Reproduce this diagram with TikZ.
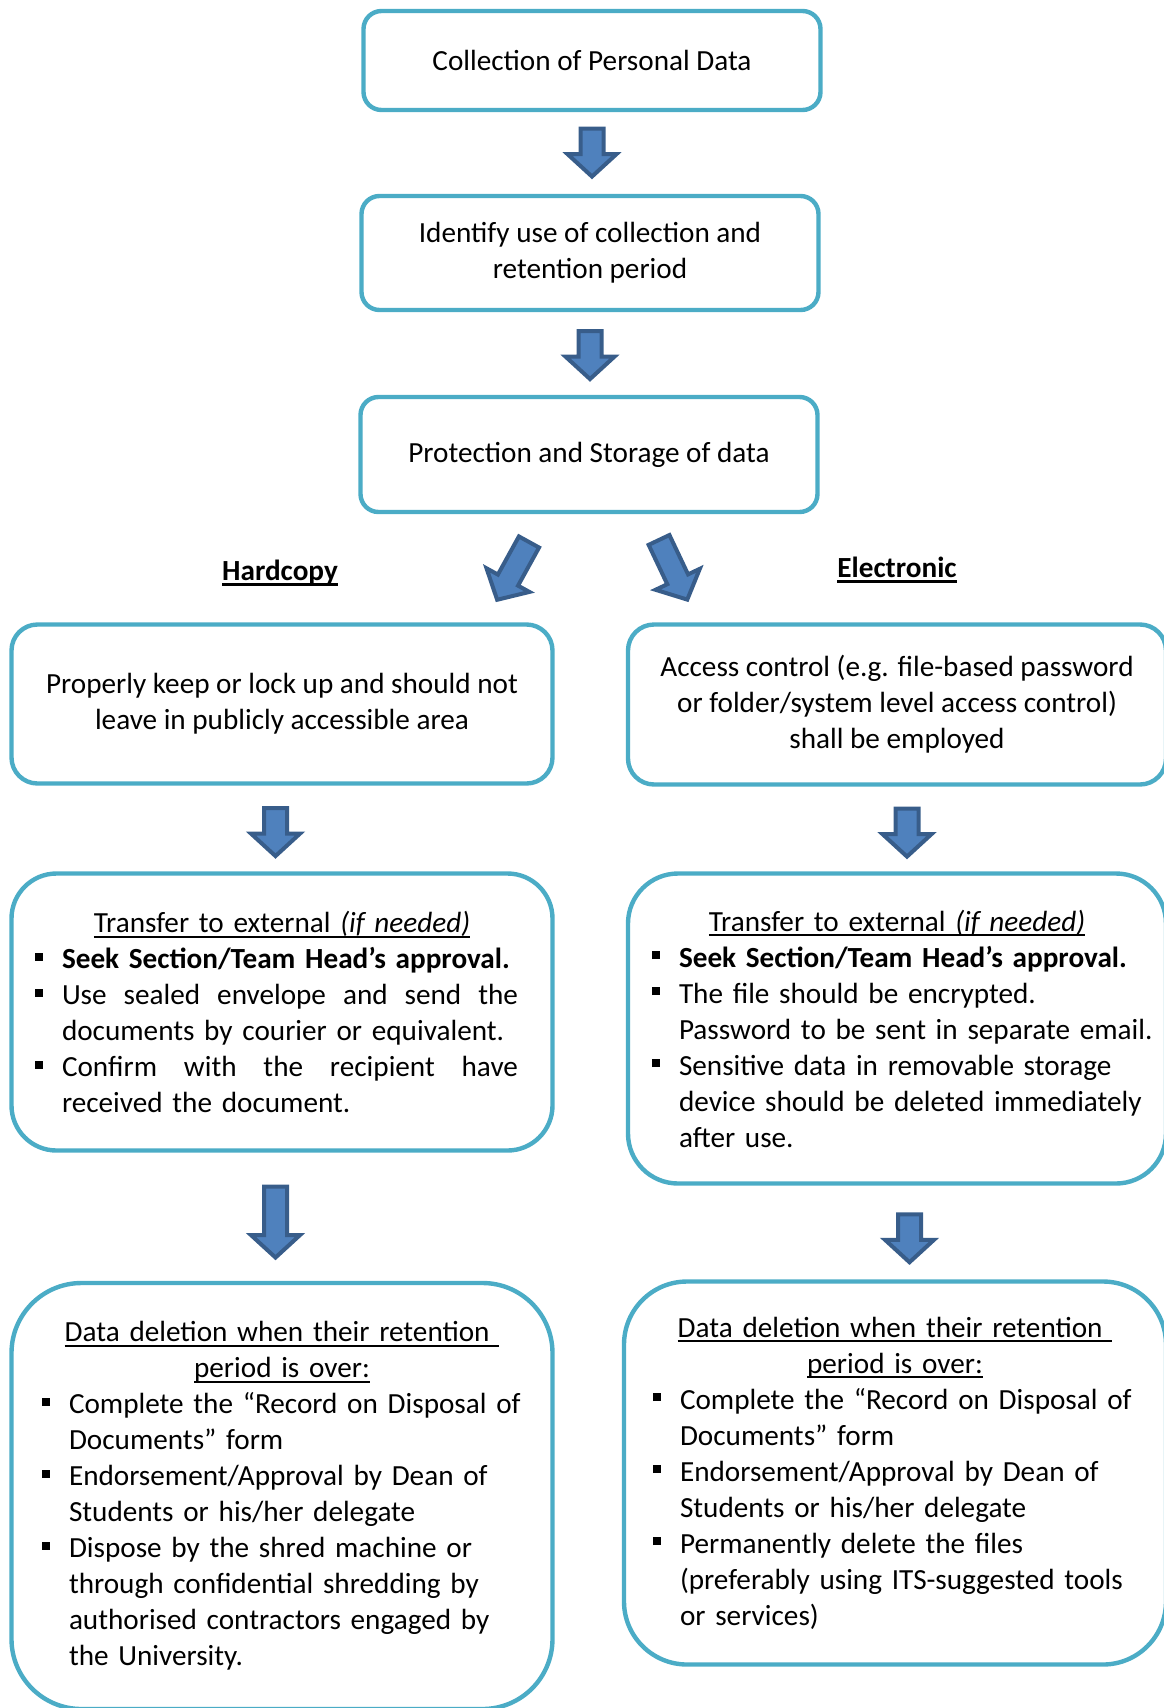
\documentclass[tikz,border=0pt]{standalone}
\usepackage{fontspec}
\setmainfont{Carlito}
\usetikzlibrary{shapes.arrows,calc}

\definecolor{boxline}{HTML}{4BACC6}
\definecolor{arrfill}{HTML}{4F81BD}
\definecolor{arrline}{HTML}{385D8A}

\setlength\parindent{0pt}
\setlength\parskip{0pt}

% underline with a rule of given thickness
\newcommand\uln[2][1pt]{\setbox0\hbox{#2}\leavevmode\rlap{\rule[-2.6pt]{\wd0}{#1}}\box0}

% square bullets with hanging indent
\newlength\bulind
\setlength\bulind{13.5pt}
\newcommand\sqbul{\raisebox{4pt}{\rule{4pt}{4pt}}}
\newcommand\bitem[1]{\par\hangindent=\bulind\hangafter=1\noindent\makebox[\bulind][l]{\sqbul}#1\par}
\newcommand\bhead[1]{{\centering #1\par}\raggedright}

\tikzset{
  box/.style={draw=boxline, line width=2.2pt, rounded corners=#1, fill=white,
    inner sep=0pt, font=\fontsize{14.6pt}{18pt}\selectfont},
  box/.default=9pt,
  blk/.style={single arrow, draw=arrline, fill=arrfill, line width=2pt,
    inner xsep=0pt, inner ysep=4.75pt, single arrow head extend=6.5pt,
    single arrow tip angle=95, minimum height=#1},
  blk/.default=24pt,
  lbl/.style={font=\fontsize{14.6pt}{18pt}\selectfont\bfseries}
}

\begin{document}
\begin{tikzpicture}[x=0.5pt, y=-0.5pt]
  \useasboundingbox (0,0) rectangle (1163,1708);

  % common part
  \node[box, minimum width=228.5pt, minimum height=49.5pt, align=center] (collect) at (592,60.5)
    {Collection of Personal Data};
  \node[box, minimum width=228.5pt, minimum height=57pt, align=center] (identify) at (590,253)
    {Identify use of collection and\\retention period};
  \node[box, minimum width=228.5pt, minimum height=57.5pt, align=center] (protect) at (589,454.5)
    {Protection and Storage of data};

  % branch labels
  \node[lbl] (hard) at (280,573) {\uln[1.5pt]{Hardcopy}};
  \node[lbl] (elec) at (897,570) {\uln[1.5pt]{Electronic}};

  % hardcopy column
  \node[box=13pt, minimum width=270.5pt, minimum height=79.5pt, align=center] (keep) at (282,704)
    {Properly keep or lock up and should not\\leave in publicly accessible area};
  \node[box=22.5pt, minimum width=270.5pt, minimum height=138.5pt, text width=247pt] (htrans) at (282,1012) {%
    \bhead{\uln{Transfer to external \textit{(if needed)}}}
    \bitem{\textbf{Seek Section/Team Head’s approval.}}
    \bitem{\makebox[228pt][s]{Use\hfill sealed\hfill envelope\hfill and\hfill send\hfill the}\newline documents by courier or equivalent.}
    \bitem{\makebox[228pt][s]{Confirm\hfill with\hfill the\hfill recipient\hfill have}\newline received the document.}};
  \node[box=35pt, minimum width=270.5pt, minimum height=213pt, text width=240pt] (hdel) at (282,1496) {%
    \bhead{\uln{Data deletion when their retention\ }\\\uln{period is over:}}
    \bitem{\mbox{Complete the “Record on Disposal of}\newline Documents” form}
    \bitem{Endorsement/Approval by Dean of\newline Students or his/her delegate}
    \bitem{Dispose by the shred machine or\newline through confidential shredding by\newline authorised contractors engaged by\newline the University.}};

  % electronic column
  \node[box=13pt, minimum width=269pt, minimum height=80pt, align=center] (access) at (897,704.5)
    {Access control (e.g. file-based password\\or folder/system level access control)\\shall be employed};
  \node[box=25pt, minimum width=269pt, minimum height=155pt, text width=245pt] (etrans) at (897,1028.5) {%
    \bhead{\uln{Transfer to external \textit{(if needed)}}}
    \bitem{\textbf{Seek Section/Team Head’s approval.}}
    \bitem{The file should be encrypted.\newline \mbox{Password to be sent in separate email.}}
    \bitem{Sensitive data in removable storage\newline \mbox{device should be deleted immediately}\newline after use.}};
  \node[box=31.5pt, minimum width=271pt, minimum height=191.5pt, text width=242pt] (edel) at (895,1473) {%
    \bhead{\uln{Data deletion when their retention\ }\\\uln{period is over:}}
    \bitem{\mbox{Complete the “Record on Disposal of}\newline Documents” form}
    \bitem{Endorsement/Approval by Dean of\newline Students or his/her delegate}
    \bitem{Permanently delete the files\newline \mbox{(preferably using ITS-suggested tools}\newline or services)}};

  % block arrows
  \path (collect.south) -- (collect.south |- identify.north)
    node[pos=0.43, sloped, allow upside down, blk] (a1) {};
  \path (identify.south) -- (identify.south |- protect.north)
    node[pos=0.455, sloped, allow upside down, blk] (a2) {};
  \path ($(protect.south)+(-58.5,25)$) -- ($(keep.north east)+(-54,-29)$)
    node[midway, sloped, allow upside down, blk=33pt] (a3) {};
  \path ($(protect.south)+(68.5,22.5)$) -- ($(access.north west)+(58.5,-29)$)
    node[midway, sloped, allow upside down, blk=33pt] (a4) {};
  \path ([xshift=-3.25pt]keep.south) -- ([xshift=-3.25pt]keep.south |- htrans.north)
    node[pos=0.48, sloped, allow upside down, blk] (a5) {};
  \path ([xshift=5pt]access.south) -- ([xshift=5pt]access.south |- etrans.north)
    node[pos=0.48, sloped, allow upside down, blk] (a6) {};
  \path ([xshift=-3.25pt]htrans.south) -- ([xshift=-3.25pt]htrans.south |- hdel.north)
    node[pos=0.5, sloped, allow upside down, blk=35.5pt] (a7) {};
  \path ([xshift=6.25pt]etrans.south) -- ([xshift=6.25pt]etrans.south |- edel.north)
    node[pos=0.505, sloped, allow upside down, blk] (a8) {};
\end{tikzpicture}
\end{document}
